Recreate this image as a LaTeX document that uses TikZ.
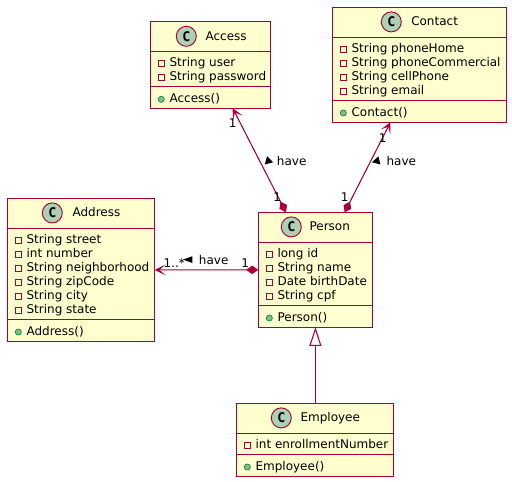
\documentclass[tikz,border=0pt]{standalone}
\usepackage{fontspec}
\setmainfont{DejaVu Sans}
\newfontfamily\spotfont{DejaVu Sans Mono}
\usepackage{xcolor}
\usetikzlibrary{arrows.meta,shapes.geometric}
\definecolor{UmlRed}{HTML}{A80036}
\definecolor{UmlFill}{HTML}{FEFECE}
\definecolor{UmlSpot}{HTML}{ADD1B2}
\definecolor{UmlPub}{HTML}{84BE84}
\definecolor{UmlPubLine}{HTML}{038048}
\tikzset{
  classbox/.style={draw=UmlRed,fill=UmlFill,line width=0.8pt,inner sep=0pt,outer sep=0pt},
  classline/.style={draw=UmlRed,line width=0.8pt},
  spot/.style={circle,draw=UmlRed,fill=UmlSpot,line width=0.7pt,minimum size=15pt,inner sep=0pt,
    font=\fontsize{10}{11}\spotfont\bfseries},
  umltext/.style={anchor=base west,inner sep=0pt,font=\fontsize{9}{11}\selectfont},
  privmark/.style={draw=UmlRed,fill=none,line width=0.6pt,minimum size=4.4pt,inner sep=0pt},
  pubmark/.style={circle,draw=UmlPubLine,fill=UmlPub,line width=0.5pt,minimum size=4.6pt,inner sep=0pt},
  dirmark/.style={isosceles triangle,isosceles triangle stretches,fill=black,minimum width=6.4pt,minimum height=5.6pt,inner sep=0pt},
  umledge/.style={UmlRed,line width=0.8pt},
  hasarrow/.style={umledge,{Diamond[length=9pt,width=6.4pt]}-{Stealth[length=8.2pt,width=8.2pt,inset=4.6pt]}},
  extendarrow/.style={umledge,-{Triangle[open,fill=white,length=14pt,width=9pt]}}
}

\begin{document}
\begin{tikzpicture}[x=0.75pt,y=-0.75pt]
  \useasboundingbox (0,0) rectangle (512,482);

  % class boxes
  \foreach \nm/\xa/\xb/\ya/\yb/\sa/\sb/\sx/\tx/\lab in {
    access/150.5/270.7/21.7/108.3/51.7/86.3/186.3/205.3/Access,
    contact/332.7/506.7/7.3/122.3/37.3/100.3/391.3/411/Contact,
    address/7.3/154.7/198.3/341.7/228.3/319.3/52.3/72.3/Address,
    person/258.2/372.6/212.3/327.3/242.3/305.3/291.3/309.3/Person,
    employee/236.9/393.9/403.3/476.3/433.3/454.3/281.3/300.3/Employee}{
    \node[classbox,minimum width=(\xb-\xa)*0.75pt,minimum height=(\yb-\ya)*0.75pt]
      (\nm) at ({(\xa+\xb)/2},{(\ya+\yb)/2}) {};
    \draw[classline] (\xa,\sa) -- (\xb,\sa);
    \draw[classline] (\xa,\sb) -- (\xb,\sb);
    \node[spot] (\nm-spot) at (\sx,\ya+14.6) {C};
    \node[umltext] (\nm-title) at (\tx,\ya+18.6) {\lab};
  }

  % members
  \foreach \i/\mtxt in {0/String user,1/String password}{
    \node[privmark] (access-mark\i) at (161.3,{63.3+14*\i}) {};
    \node[umltext] (access-m\i) at (169.3,{66.4+14*\i}) {\mtxt};
  }
  \node[pubmark] (access-pub) at (161.3,99.3) {};
  \node[umltext] (access-op) at (169.3,102) {Access()};

  \foreach \i/\mtxt in {0/String phoneHome,1/String phoneCommercial,2/String cellPhone,3/String email}{
    \node[privmark] (contact-mark\i) at (343.3,{49.3+14*\i}) {};
    \node[umltext] (contact-m\i) at (351.3,{52.4+14*\i}) {\mtxt};
  }
  \node[pubmark] (contact-pub) at (343.3,113) {};
  \node[umltext] (contact-op) at (351.3,116) {Contact()};

  \foreach \i/\mtxt in {0/String street,1/int number,2/String neighborhood,3/String zipCode,4/String city,5/String state}{
    \node[privmark] (address-mark\i) at (18.3,{240.3+14*\i}) {};
    \node[umltext] (address-m\i) at (26.3,{243.4+14*\i}) {\mtxt};
  }
  \node[pubmark] (address-pub) at (18.3,332) {};
  \node[umltext] (address-op) at (26.3,335) {Address()};

  \foreach \i/\mtxt in {0/long id,1/String name,2/Date birthDate,3/String cpf}{
    \node[privmark] (person-mark\i) at (269.3,{254.3+14*\i}) {};
    \node[umltext] (person-m\i) at (277.3,{257.4+14*\i}) {\mtxt};
  }
  \node[pubmark] (person-pub) at (269.3,318) {};
  \node[umltext] (person-op) at (277.3,321) {Person()};

  \node[privmark] (employee-mark) at (247.3,445.3) {};
  \node[umltext] (employee-m) at (255.3,448.4) {int enrollmentNumber};
  \node[pubmark] (employee-pub) at (247.3,467) {};
  \node[umltext] (employee-op) at (255.3,470) {Employee()};

  % relations
  \draw[hasarrow] (person) -- (access);
  \draw[hasarrow] (person) -- (contact);
  \draw[hasarrow] (person) -- (address);
  \draw[extendarrow] (employee.north) -- (person.south);

  \node[umltext] (l1) at (228.5,127.5) {1};
  \node[umltext] (l2) at (273,201) {1};
  \node[umltext] (l3) at (378.5,142) {1};
  \node[umltext] (l4) at (340.5,201) {1};
  \node[umltext] (l5) at (163.3,267.3) {1..*};
  \node[umltext] (l6) at (241,267.3) {1};

  \node[dirmark,rotate=-15] (m1) at (268.3,161) {};
  \node[umltext] (h1) at (276.7,165) {have};
  \node[dirmark,rotate=195] (m2) at (377,161) {};
  \node[umltext] (h2) at (386.3,165) {have};
  \node[dirmark,rotate=180,minimum height=7pt,minimum width=5pt] (m3) at (190,259.6) {};
  \node[umltext] (h3) at (198.7,264) {have};
\end{tikzpicture}
\end{document}
